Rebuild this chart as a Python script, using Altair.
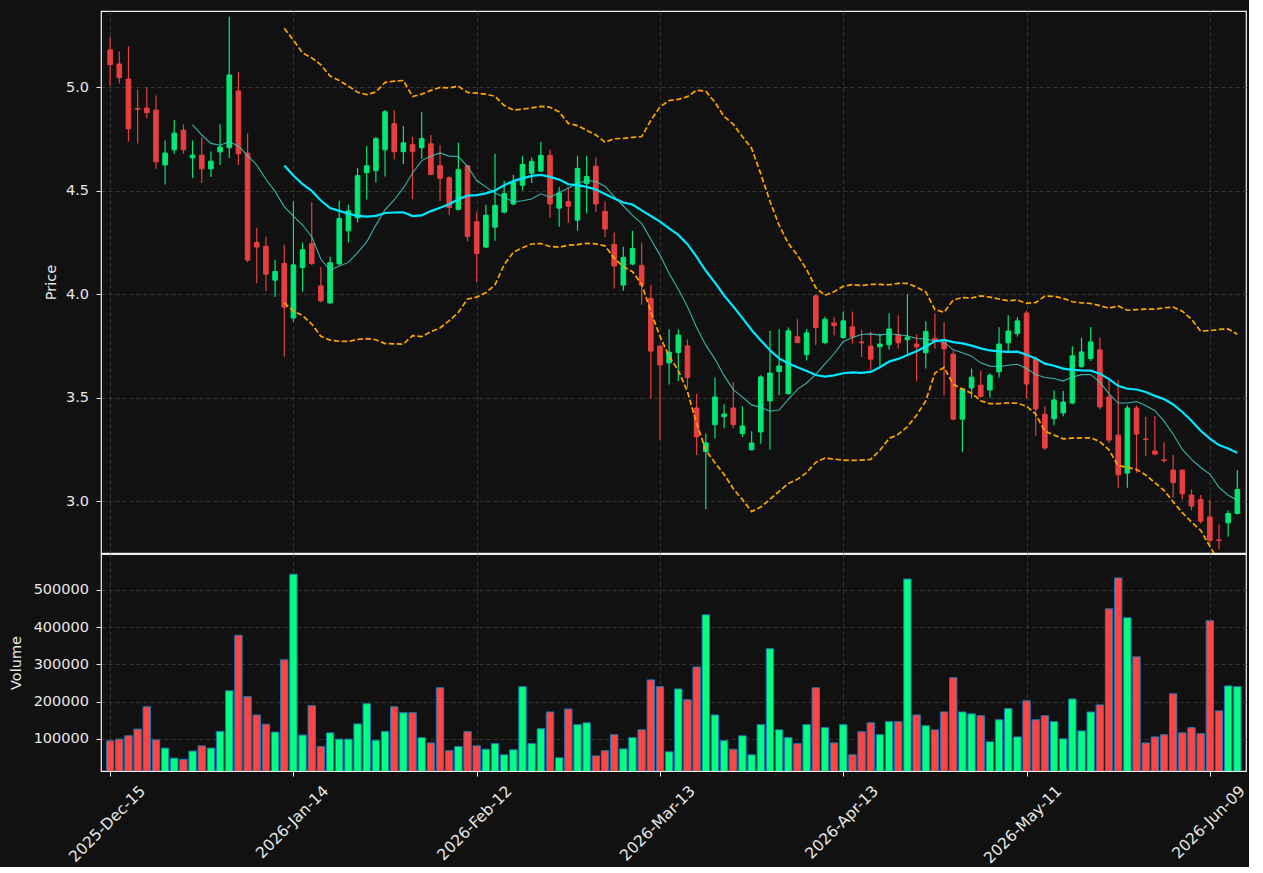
import altair as alt
import pandas as pd

# ---------------- data ----------------
tick_positions = [0, 20, 40, 60, 80, 100, 120]
tick_labels = ["2025-Dec-15", "2026-Jan-14", "2026-Feb-12", "2026-Mar-13",
               "2026-Apr-13", "2026-May-11", "2026-Jun-09"]

opens = [5.181, 5.113, 5.040, 4.898, 4.900, 4.890, 4.625, 4.698, 4.793, 4.659,
         4.672, 4.606, 4.688, 4.708, 4.982, 4.682, 4.250, 4.231, 4.068, 4.149,
         3.885, 4.129, 4.244, 4.040, 3.958, 4.147, 4.306, 4.369, 4.587, 4.597,
         4.698, 4.824, 4.689, 4.723, 4.708, 4.727, 4.621, 4.563, 4.410, 4.621,
         4.350, 4.228, 4.324, 4.397, 4.436, 4.527, 4.585, 4.595, 4.671, 4.416,
         4.448, 4.358, 4.535, 4.618, 4.400, 4.241, 4.044, 4.146, 4.139, 3.980,
         3.749, 3.668, 3.718, 3.750, 3.450, 3.239, 3.369, 3.408, 3.450, 3.326,
         3.248, 3.334, 3.484, 3.626, 3.519, 3.794, 3.708, 3.992, 3.766, 3.861,
         3.790, 3.842, 3.769, 3.749, 3.746, 3.756, 3.804, 3.780, 3.759, 3.717,
         3.786, 3.769, 3.710, 3.396, 3.547, 3.560, 3.537, 3.625, 3.765, 3.809,
         3.909, 3.689, 3.419, 3.398, 3.426, 3.474, 3.650, 3.689, 3.731, 3.503,
         3.319, 3.135, 3.450, 3.300, 3.242, 3.199, 3.150, 3.150, 3.029, 3.008,
         2.923, 2.812, 2.895, 2.940]
highs = [5.244, 5.173, 5.199, 4.990, 5.000, 4.961, 4.743, 4.842, 4.821, 4.743,
         4.758, 4.690, 4.821, 5.341, 5.073, 4.777, 4.321, 4.278, 4.166, 4.239,
         4.449, 4.250, 4.444, 4.132, 4.181, 4.452, 4.432, 4.610, 4.716, 4.760,
         4.890, 4.890, 4.813, 4.760, 4.881, 4.769, 4.721, 4.570, 4.732, 4.625,
         4.400, 4.433, 4.679, 4.548, 4.577, 4.669, 4.661, 4.737, 4.698, 4.518,
         4.513, 4.669, 4.669, 4.661, 4.448, 4.297, 4.229, 4.307, 4.249, 4.046,
         3.755, 3.830, 3.831, 3.782, 3.519, 3.327, 3.597, 3.468, 3.576, 3.458,
         3.337, 3.608, 3.823, 3.831, 3.839, 3.879, 3.831, 4.000, 3.892, 3.889,
         3.916, 3.916, 3.830, 3.819, 3.809, 3.908, 3.898, 4.000, 3.806, 3.869,
         3.908, 3.864, 3.725, 3.545, 3.641, 3.631, 3.618, 3.840, 3.898, 3.888,
         3.919, 3.700, 3.457, 3.535, 3.532, 3.748, 3.790, 3.842, 3.790, 3.584,
         3.584, 3.463, 3.463, 3.406, 3.411, 3.284, 3.223, 3.150, 3.056, 3.029,
         3.008, 2.887, 2.955, 3.150]
lows = [5.006, 5.019, 4.738, 4.729, 4.850, 4.607, 4.530, 4.679, 4.679, 4.562,
        4.538, 4.567, 4.625, 4.659, 4.625, 4.155, 4.053, 4.016, 3.987, 3.698,
        3.867, 4.013, 4.140, 3.960, 3.952, 4.140, 4.250, 4.347, 4.458, 4.540,
        4.569, 4.652, 4.629, 4.460, 4.653, 4.575, 4.450, 4.382, 4.405, 4.256,
        4.056, 4.223, 4.258, 4.390, 4.430, 4.502, 4.537, 4.590, 4.370, 4.326,
        4.345, 4.307, 4.390, 4.397, 4.276, 4.027, 4.017, 4.140, 3.949, 3.495,
        3.297, 3.564, 3.581, 3.548, 3.223, 2.960, 3.303, 3.352, 3.352, 3.310,
        3.245, 3.277, 3.248, 3.511, 3.515, 3.766, 3.681, 3.755, 3.758, 3.802,
        3.785, 3.761, 3.697, 3.631, 3.654, 3.731, 3.738, 3.712, 3.578, 3.641,
        3.738, 3.510, 3.390, 3.238, 3.500, 3.500, 3.500, 3.597, 3.727, 3.796,
        3.498, 3.316, 3.247, 3.366, 3.410, 3.468, 3.645, 3.677, 3.444, 3.279,
        3.065, 3.065, 3.137, 3.218, 3.221, 3.187, 3.016, 3.008, 2.956, 2.890,
        2.790, 2.766, 2.827, 2.935]
closes = [5.110, 5.047, 4.800, 4.894, 4.877, 4.640, 4.682, 4.779, 4.698, 4.672,
          4.606, 4.643, 4.711, 5.060, 4.679, 4.165, 4.228, 4.097, 4.110, 3.937,
          4.142, 4.215, 4.148, 3.968, 4.152, 4.366, 4.403, 4.573, 4.621, 4.752,
          4.882, 4.689, 4.732, 4.689, 4.752, 4.579, 4.560, 4.419, 4.602, 4.279,
          4.196, 4.382, 4.429, 4.487, 4.540, 4.627, 4.642, 4.671, 4.436, 4.489,
          4.426, 4.608, 4.569, 4.436, 4.315, 4.136, 4.178, 4.221, 4.044, 3.725,
          3.658, 3.720, 3.803, 3.597, 3.311, 3.281, 3.503, 3.421, 3.369, 3.363,
          3.281, 3.600, 3.619, 3.653, 3.823, 3.766, 3.813, 3.839, 3.879, 3.848,
          3.871, 3.794, 3.765, 3.686, 3.759, 3.832, 3.765, 3.793, 3.746, 3.820,
          3.778, 3.736, 3.396, 3.542, 3.599, 3.506, 3.608, 3.759, 3.822, 3.871,
          3.566, 3.445, 3.257, 3.489, 3.479, 3.702, 3.721, 3.769, 3.455, 3.295,
          3.127, 3.450, 3.324, 3.297, 3.227, 3.196, 3.089, 3.035, 2.976, 2.903,
          2.810, 2.809, 2.940, 3.056]
volumes = [94600, 99000, 108000, 126000, 186000, 97000, 75000, 48000, 45000, 67000,
           81000, 75000, 120000, 229000, 378000, 213000, 164000, 139000, 118000, 312000,
           542000, 110000, 189000, 79000, 116000, 99000, 99000, 140000, 194000, 96000,
           120000, 186000, 170000, 170000, 103000, 89000, 237000, 68000, 79000, 119000,
           81000, 72000, 87000, 57000, 70500, 240000, 87000, 127000, 172000, 49000,
           180000, 138000, 143000, 54000, 68000, 111000, 73000, 103000, 124000, 258000,
           240000, 65000, 234000, 205000, 293000, 433000, 164000, 95000, 72000, 108000,
           57000, 138000, 342000, 124000, 103000, 87000, 138000, 237000, 130000, 89000,
           138000, 57000, 119000, 143000, 111000, 146000, 146000, 529000, 164000, 135000,
           124000, 172000, 264000, 172000, 167000, 162000, 92000, 151000, 181000, 105000,
           202000, 151000, 162000, 146000, 100000, 207000, 121000, 172000, 191000, 449000,
           532000, 425000, 320000, 89000, 105000, 111000, 221000, 116000, 130000, 114000,
           417000, 175000, 242000, 240000]

# ---------------- styling ----------------
BG = "#111111"
TXT = "#e8e8e8"
UP_BODY, DOWN_BODY = "#02e775", "#e73f3f"
UP_VOL, DOWN_VOL = "#00ff80", "#ff4444"
FONT = "DejaVu Sans"

PW = 1145
PH_PRICE = 542
PH_VOL = 217

df = pd.DataFrame({
    "i": list(range(len(closes))),
    "open": opens, "high": highs, "low": lows, "close": closes, "volume": volumes,
})

x_scale = alt.Scale(domain=[-0.45, 123.4], nice=False, zero=False)
price_scale = alt.Scale(domain=[2.749, 5.369], nice=False, zero=False)
vol_scale = alt.Scale(domain=[13500, 596200], nice=False, zero=False)

label_expr = "[" + ",".join("'%s'" % t for t in tick_labels) + "][round(datum.value / 20)]"

price_x_axis = alt.Axis(values=tick_positions, labels=False, ticks=False, title=None,
                        grid=True, domain=False, minExtent=0, maxExtent=0,
                        labelPadding=0, tickSize=0)
price_y_axis = alt.Axis(values=[3.0, 3.5, 4.0, 4.5, 5.0], format=".1f", title="Price",
                        tickSize=5, labelPadding=7.5, grid=True, domain=False,
                        titleX=-50, titleY=PH_PRICE / 2, titleAngle=-90,
                        titleAlign="center", titleBaseline="middle")


def px():
    return alt.X("i:Q", scale=x_scale, axis=price_x_axis)


def py(field):
    return alt.Y(field, scale=price_scale, axis=price_y_axis)


base = alt.Chart(df)
body_color = alt.condition("datum.close >= datum.open", alt.value(UP_BODY), alt.value(DOWN_BODY))

wicks = base.mark_rule(strokeWidth=1.2, clip=True).encode(
    x=px(), y=py("low:Q"), y2="high:Q", color=body_color)
bodies = base.mark_bar(size=4.6, strokeWidth=1, clip=True).encode(
    x=px(), y=py("open:Q"), y2="close:Q", color=body_color, stroke=body_color)

ind = (base
       .transform_window(ma10="mean(close)", n10="count()", frame=[-9, 0], sort=[{"field": "i"}])
       .transform_window(ma20="mean(close)", sd20="stdevp(close)", n20="count()",
                         frame=[-19, 0], sort=[{"field": "i"}])
       .transform_calculate(upper="datum.ma20 + 2 * datum.sd20",
                            lower="datum.ma20 - 2 * datum.sd20"))

ma10 = ind.transform_filter("datum.n10 >= 10").mark_line(
    color="#3fd0c4", opacity=0.85, strokeWidth=1.1, clip=True).encode(x=px(), y=py("ma10:Q"))
ind20 = ind.transform_filter("datum.n20 >= 20")
ma20 = ind20.mark_line(color="#00e8ff", strokeWidth=2.2, clip=True).encode(x=px(), y=py("ma20:Q"))
upper = ind20.mark_line(color="#ffa500", strokeWidth=1.7, strokeDash=[5.5, 2.5], clip=True).encode(
    x=px(), y=py("upper:Q"))
lower = ind20.mark_line(color="#ffa500", strokeWidth=1.7, strokeDash=[5.5, 2.5], clip=True).encode(
    x=px(), y=py("lower:Q"))

price = alt.layer(wicks, bodies, ma10, ma20, upper, lower).properties(width=PW, height=PH_PRICE)

vol_color = alt.condition("datum.close >= datum.open", alt.value(UP_VOL), alt.value(DOWN_VOL))
volume = base.mark_bar(size=7.4, stroke="#1f77b4", strokeWidth=1, clip=True).encode(
    x=alt.X("i:Q", scale=x_scale,
            axis=alt.Axis(values=tick_positions, labelExpr=label_expr, labelAngle=-45,
                          labelAlign="right", labelBaseline="middle", labelPadding=12,
                          tickSize=5, labelOffset=32, title=None, grid=True,
                          labelFontSize=15.5,
                          domain=False, labelOverlap=False, labelFlush=False)),
    y=alt.Y("volume:Q", scale=vol_scale,
            axis=alt.Axis(values=[100000, 200000, 300000, 400000, 500000], format="d",
                          title="Volume", tickSize=5, labelPadding=7.5, grid=True, domain=False,
                          titleX=-84.5, titleY=PH_VOL / 2, titleAngle=-90,
                          titleAlign="center", titleBaseline="middle")),
    color=vol_color,
).properties(width=PW, height=PH_VOL)

chart = (alt.vconcat(price, volume, spacing=1, bounds="flush")
         .properties(background=BG, padding={"left": 7, "top": 10, "right": 0, "bottom": 0})
         .configure_view(stroke="#f0f0f0", strokeWidth=1.2, fill=BG)
         .configure_axis(labelFont=FONT, labelFontSize=14.5, labelColor=TXT,
                         titleFont=FONT, titleFontSize=14.5, titleColor=TXT,
                         titleFontWeight="normal", tickColor=TXT, tickWidth=1,
                         gridColor="#3a3a3a", gridDash=[4, 3], gridWidth=0.9))

chart.save("out.html", embed_options={"renderer": "svg", "actions": False})
